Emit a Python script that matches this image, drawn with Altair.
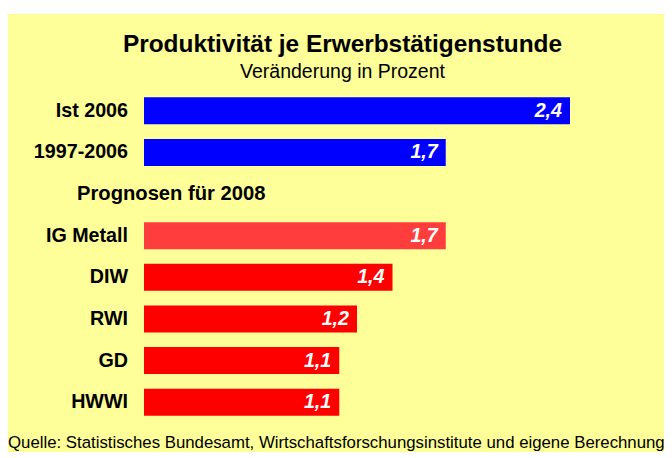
import altair as alt
import pandas as pd

categories = ["Ist 2006", "1997-2006", "Prognosen für 2008", "IG Metall", "DIW", "RWI", "GD", "HWWI"]
values = [2.4, 1.7, None, 1.7, 1.4, 1.2, 1.1, 1.1]
bar_colors = ["#0000FF", "#0000FF", None, "#FF3D3D", "#FF0000", "#FF0000", "#FF0000", "#FF0000"]

title_text = "Produktivität je Erwerbstätigenstunde"
subtitle_text = "Veränderung in Prozent"
footer_text = "Quelle: Statistisches Bundesamt, Wirtschaftsforschungsinstitute und eigene Berechnung"
section_label = "Prognosen für 2008"

rows = []
for c, v, col in zip(categories, values, bar_colors):
    rows.append({
        "cat": c,
        "v": v,
        "color": col,
        "label": "" if c == section_label else c,
        "vlabel": "" if v is None else f"{v:.1f}".replace(".", ","),
    })
df = pd.DataFrame(rows)
bars_df = df[df["v"].notna()]

W, H = 656, 444
FONT = "Liberation Sans"

yscale = alt.Scale(domain=categories, range=[82, 415], paddingInner=0.35, paddingOuter=0.175)
xscale = alt.Scale(domain=[0, 2.4], range=[136, 562])

ybase = alt.Y("cat:N", sort=categories, scale=yscale, axis=None)

bg = alt.Chart(pd.DataFrame({"a": [0]})).mark_rect(color="#FFFF99").encode(
    x=alt.value(-5), x2=alt.value(W + 5), y=alt.value(6), y2=alt.value(H + 5)
)

bars = alt.Chart(bars_df).mark_bar().encode(
    y=ybase,
    x=alt.X("v:Q", scale=xscale, axis=None),
    color=alt.Color("color:N", scale=None),
)

vals = alt.Chart(bars_df).mark_text(
    align="right", baseline="middle", dx=-8, font=FONT, fontSize=19.7,
    fontWeight="bold", fontStyle="italic", color="white"
).encode(y=ybase, x=alt.X("v:Q", scale=xscale, axis=None), text="vlabel:N")

labels = alt.Chart(df).mark_text(
    align="right", baseline="middle", font=FONT, fontSize=19.7, fontWeight="bold", color="black"
).encode(y=ybase, x=alt.value(120), text="label:N")

section = alt.Chart(df[df["cat"] == section_label]).mark_text(
    align="left", baseline="middle", font=FONT, fontSize=20.2, fontWeight="bold", color="black"
).encode(y=ybase, x=alt.value(69), text="cat:N")

title = alt.Chart(pd.DataFrame({"t": [title_text]})).mark_text(
    align="center", baseline="middle", font=FONT, fontSize=24.4, fontWeight="bold", color="black"
).encode(x=alt.value(334.5), y=alt.value(37), text="t:N")

subtitle = alt.Chart(pd.DataFrame({"t": [subtitle_text]})).mark_text(
    align="center", baseline="middle", font=FONT, fontSize=19.5, color="black"
).encode(x=alt.value(334.5), y=alt.value(64), text="t:N")

footer = alt.Chart(pd.DataFrame({"t": [footer_text]})).mark_text(
    align="left", baseline="alphabetic", font=FONT, fontSize=16.8, color="black"
).encode(x=alt.value(0), y=alt.value(440), text="t:N")

chart = alt.layer(bg, bars, vals, labels, section, title, subtitle, footer).properties(
    width=W, height=H, padding=0, autosize=alt.AutoSizeParams(type="none"),
    background="white"
).configure_view(stroke=None)

chart.save("out.html", embed_options={"renderer": "svg", "actions": False})
